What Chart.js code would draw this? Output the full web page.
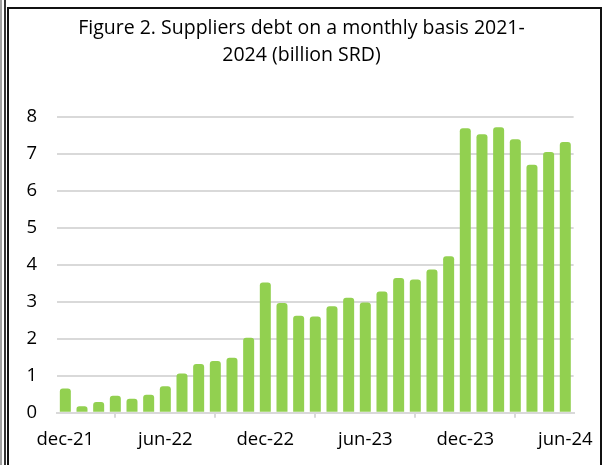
<!DOCTYPE html>
<html>
<head>
<meta charset="utf-8">
<script src="https://cdn.jsdelivr.net/npm/chart.js@4"></script>
<style>
  html, body { margin: 0; padding: 0; background: #fff; }
  #wrap { position: relative; width: 604px; height: 465px; overflow: hidden; }
  #chartCanvas { position: absolute; left: 0; top: 0; }
  .line { position: absolute; pointer-events: none; }
</style>
</head>
<body>
<div id="wrap">
  <canvas id="chartCanvas" width="604" height="465"></canvas>
  <!-- page frame lines -->
  <div class="line" style="left:0;top:0;width:2px;height:465px;background:#a0a0a0"></div>
  <div class="line" style="left:4px;top:0;width:2px;height:465px;background:#333"></div>
  <div class="line" style="left:7px;top:7px;width:2px;height:458px;background:#111"></div>
  <div class="line" style="left:7px;top:7px;width:595px;height:2px;background:#111"></div>
  <div class="line" style="left:600px;top:7px;width:2px;height:458px;background:#111"></div>
</div>
<script>
// Months from dec-21 to jun-24
const months = [
    'dec-21', 'jan-22', 'feb-22', 'mar-22', 'apr-22', 'may-22',
    'jun-22', 'jul-22', 'aug-22', 'sep-22', 'oct-22', 'nov-22',
    'dec-22', 'jan-23', 'feb-23', 'mar-23', 'apr-23', 'may-23',
    'jun-23', 'jul-23', 'aug-23', 'sep-23', 'oct-23', 'nov-23',
    'dec-23', 'jan-24', 'feb-24', 'mar-24', 'apr-24', 'may-24',
    'jun-24'
];

// Suppliers debt (billion SRD)
const debt = [
    0.66, 0.18, 0.29, 0.46, 0.38, 0.49,
    0.72, 1.06, 1.32, 1.40, 1.49, 2.03,
    3.52, 2.97, 2.62, 2.60, 2.88, 3.11,
    2.98, 3.28, 3.64, 3.60, 3.87, 4.23,
    7.69, 7.53, 7.72, 7.39, 6.70, 7.05,
    7.32
];

const yTicks = [0, 1, 2, 3, 4, 5, 6, 7, 8];
const titleLines = ['Figure 2. Suppliers debt on a monthly basis 2021-', '2024 (billion SRD)'];

const ctx = document.getElementById('chartCanvas').getContext('2d');

new Chart(ctx, {
    type: 'bar',
    data: {
        labels: months,
        datasets: [{
            label: 'Suppliers debt',
            data: debt,
            backgroundColor: '#92D050',
            borderRadius: { topLeft: 3, topRight: 3 },
            borderSkipped: 'bottom',
            barPercentage: 0.66,
            categoryPercentage: 1.0
        }]
    },
    options: {
        responsive: false,
        animation: false,
        layout: { padding: { top: 14, right: 15, bottom: 3, left: 14 } },
        plugins: {
            legend: { display: false },
            tooltip: { enabled: false },
            title: {
                display: true,
                text: titleLines,
                color: '#000',
                font: { family: 'Open Sans', size: 19.5, weight: 'normal', lineHeight: 1.43 },
                padding: { top: 0, bottom: 47 }
            }
        },
        scales: {
            x: {
                offset: true,
                grid: {
                    offset: true,
                    drawOnChartArea: false,
                    drawTicks: true,
                    tickLength: 5,
                    // no tick mark at the far right end
                    color: c => (c.index >= months.length ? 'rgba(0,0,0,0)' : '#d9d9d9'),
                    lineWidth: 2
                },
                border: { display: true, color: '#d9d9d9', width: 2 },
                ticks: {
                    autoSkip: false,
                    maxRotation: 0,
                    padding: 11,
                    color: '#000',
                    font: { family: 'Open Sans', size: 18.5 },
                    callback: function (value, index) {
                        return index % 6 === 0 ? months[index] : null;
                    }
                }
            },
            y: {
                min: 0,
                max: 8,
                afterFit: function (scale) { scale.width = 43; },
                afterBuildTicks: function (scale) {
                    scale.ticks = yTicks.map(v => ({ value: v }));
                },
                grid: {
                    drawTicks: false,
                    color: '#d9d9d9',
                    lineWidth: 2
                },
                border: { display: false },
                ticks: {
                    padding: 20,
                    color: '#000',
                    font: { family: 'Open Sans', size: 18.5 }
                }
            },
            // empty spacer on the right so the title centres like the original
            yRight: {
                position: 'right',
                display: true,
                min: 0,
                max: 8,
                afterFit: function (scale) { scale.width = 14; },
                grid: { display: false },
                border: { display: false },
                ticks: { display: false }
            }
        }
    }
});
</script>
</body>
</html>
